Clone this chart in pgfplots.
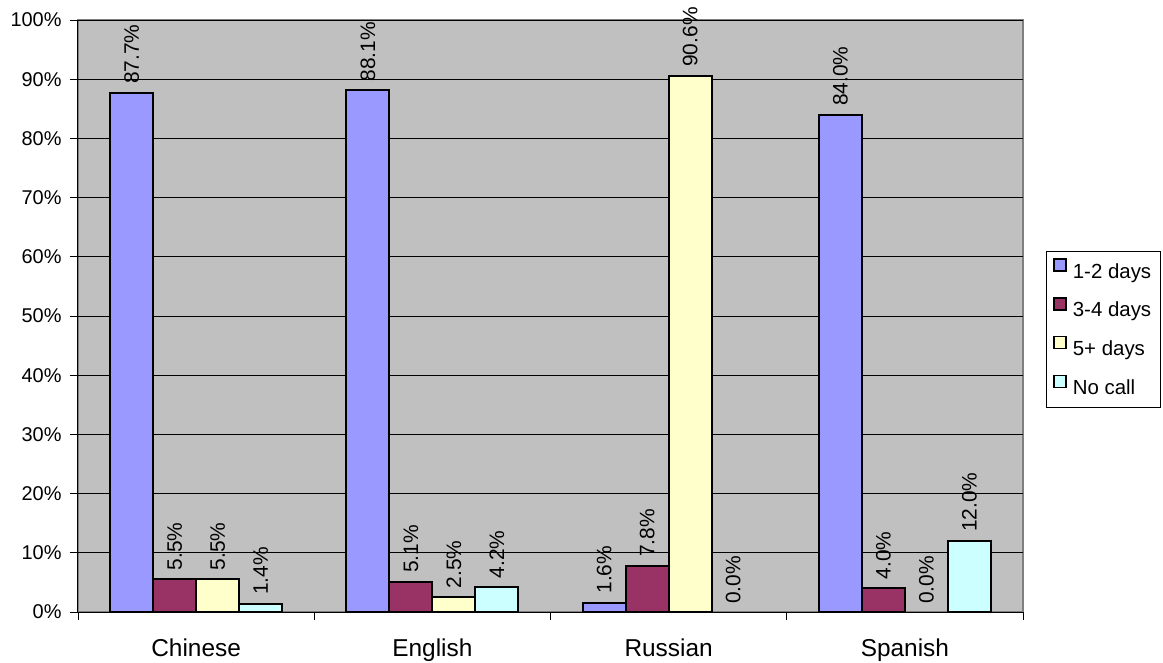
\documentclass[border=0pt]{standalone}
\usepackage{pgfplots}
\pgfplotsset{compat=1.18}
\usepackage{fontspec}
\setmainfont{Liberation Sans}
\definecolor{cA}{HTML}{9999FF}
\definecolor{cB}{HTML}{993366}
\definecolor{cC}{HTML}{FFFFCC}
\definecolor{cD}{HTML}{CCFFFF}
\definecolor{bgc}{HTML}{C0C0C0}
\definecolor{brd}{HTML}{808080}
\begin{document}
\begin{tikzpicture}
\path[use as bounding box] (-78bp,-51bp) rectangle (1085bp,612bp);
\begin{axis}[
  at={(0bp,0bp)}, anchor=south west,
  scale only axis, width=945bp, height=592bp,
  xmin=-0.5, xmax=3.5, ymin=0, ymax=100,
  ybar, bar width=0.182,
  axis background/.style={fill=bgc, draw=brd, line width=2bp},
  axis x line=bottom, axis y line=left,
  axis line style={draw=black, line width=1bp, -},
  tick align=outside,
  major tick length=8bp,
  ytick={0,10,...,100},
  yticklabel={\pgfmathprintnumber{\tick}\%},
  ytick style={draw=black, line width=0.8bp},
  ymajorgrids,
  major grid style={black, line width=0.7bp},
  xtick={0,1,2,3},
  xticklabels={Chinese,English,Russian,Spanish},
  xtick style={draw=none},
  extra x ticks={-0.5,0.5,1.5,2.5,3.5},
  extra x tick labels={},
  extra x tick style={xtick style={draw=black, line width=0.8bp}, grid=none},
  /pgf/number format/assume math mode=true,
  yticklabel style={font=\fontsize{20}{20}\selectfont, xshift=-5bp},
  xticklabel style={font=\fontsize{24.5}{24.5}\selectfont, yshift=-15bp},
  nodes near coords={\pgfmathprintnumber[fixed,fixed zerofill,precision=1]{\pgfplotspointmeta}\%},
  every node near coord/.append style={rotate=90, anchor=west, font=\fontsize{21}{21}\selectfont, inner ysep=3bp, inner xsep=8bp, black},
  legend style={at={(1.0243,0.6098)}, anchor=north west, draw=black, line width=0.8bp,
    font=\fontsize{20.5}{20.5}\selectfont, inner xsep=7bp, inner ysep=7bp, row sep=13bp, column sep=4bp,
    nodes={inner sep=2bp, text height=14bp, text depth=4bp}},
  legend cell align=left,
  legend image code/.code={\draw[#1, line width=1.5bp] (0bp,2bp) rectangle (12bp,14bp);},
]
\addplot[fill=cA, draw=black, line width=2bp, bar shift=-0.273] coordinates {(0,87.7) (1,88.1) (2,1.6) (3,84.0)};
\addplot[fill=cB, draw=black, line width=2bp, bar shift=-0.091] coordinates {(0,5.5) (1,5.1) (2,7.8) (3,4.0)};
\addplot[fill=cC, draw=black, line width=2bp, bar shift=0.091] coordinates {(0,5.5) (1,2.5) (2,90.6)};
\addplot[fill=cD, draw=black, line width=2bp, bar shift=0.273] coordinates {(0,1.4) (1,4.2) (3,12.0)};
\addplot[draw=none, fill=none, bar shift=0.091, forget plot] coordinates {(3,0.0)};
\addplot[draw=none, fill=none, bar shift=0.273, forget plot] coordinates {(2,0.0)};
\legend{1-2 days,3-4 days,5+ days,No call}
\end{axis}
\end{tikzpicture}
\end{document}
